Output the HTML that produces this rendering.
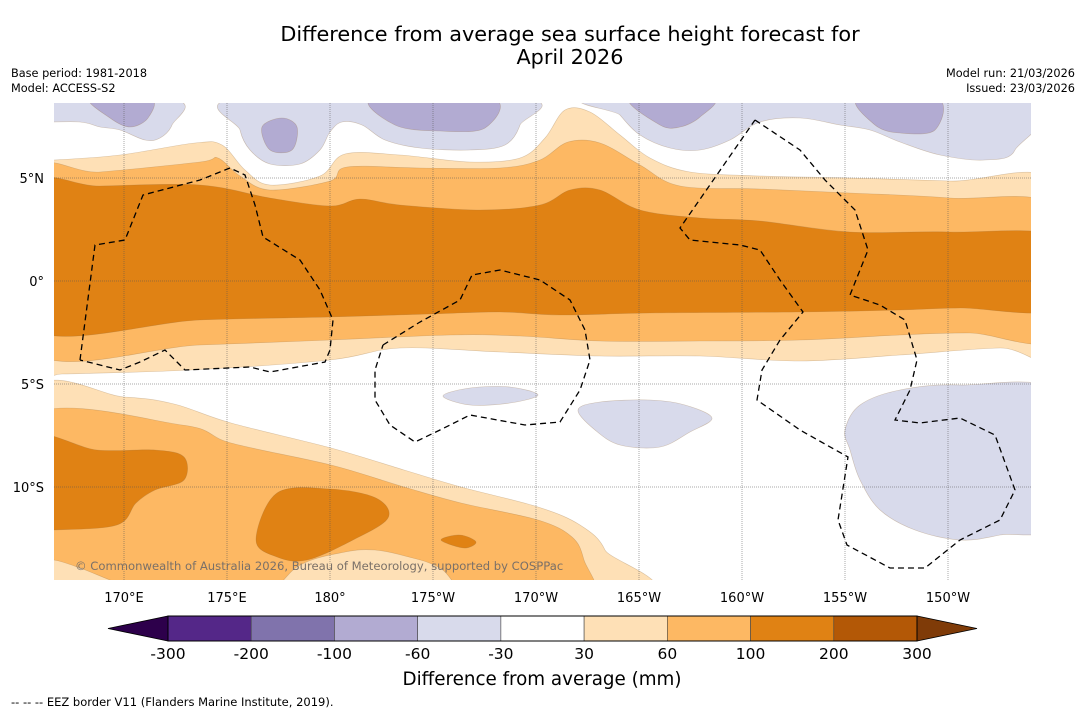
<!DOCTYPE html>
<html><head><meta charset="utf-8">
<style>
body{margin:0;background:#fff;font-family:"DejaVu Sans","Liberation Sans",sans-serif;}
svg{display:block}
</style></head>
<body>
<svg id="chart" width="1085" height="713" viewBox="0 0 1085 713" xmlns="http://www.w3.org/2000/svg" font-family="DejaVu Sans, Liberation Sans, sans-serif">
<defs><clipPath id="mapclip"><rect x="54" y="103" width="977" height="477"/></clipPath></defs>
<text x="570" y="41" text-anchor="middle" font-size="20.8">Difference from average sea surface height forecast for</text>
<text x="570" y="64" text-anchor="middle" font-size="20.8">April 2026</text>
<text x="11" y="77" font-size="11.3">Base period: 1981-2018</text>
<text x="11" y="92" font-size="11.3">Model: ACCESS-S2</text>
<text x="1075" y="77" font-size="11.3" text-anchor="end">Model run: 21/03/2026</text>
<text x="1075" y="92" font-size="11.3" text-anchor="end">Issued: 23/03/2026</text>
<g id="map" clip-path="url(#mapclip)"></g>
<g id="axes"></g>
<g id="cbar"></g>
<text x="542" y="685" text-anchor="middle" font-size="18.3">Difference from average (mm)</text>
<text x="11" y="706" font-size="11.5">--  --  -- EEZ border V11 (Flanders Marine Institute, 2019).</text>
</svg>
<script>
const NS="http://www.w3.org/2000/svg";
// colorbar data
const levels=[-300,-200,-100,-60,-30,30,60,100,200,300];
const bandColors=["#542788","#8073ac","#b2abd2","#d8daeb","#ffffff","#fee0b6","#fdb863","#e08214","#b35806"];
const underColor="#2d004b", overColor="#7f3b08";
// axis tick data
const lonTicks=["170°E","175°E","180°","175°W","170°W","165°W","160°W","155°W","150°W"];
const lonVals=[170,175,180,185,190,195,200,205,210];
const latTicks=["5°N","0°","5°S","10°S"];
const latVals=[5,0,-5,-10];
const lonX=l=>124+(l-170)*20.6;
const latY=l=>281-l*20.6;

function el(t,a,p){const e=document.createElementNS(NS,t);for(const k in a)e.setAttribute(k,a[k]);p.appendChild(e);return e;}
function smooth(pts,closed){
  const n=pts.length;let d="M"+pts[0][0]+","+pts[0][1];
  const g=i=>closed?pts[(i+n)%n]:pts[Math.max(0,Math.min(n-1,i))];
  const m=closed?n:n-1;
  for(let i=0;i<m;i++){const p0=g(i-1),p1=g(i),p2=g(i+1),p3=g(i+2);
    const c1=[p1[0]+(p2[0]-p0[0])/6,p1[1]+(p2[1]-p0[1])/6],c2=[p2[0]-(p3[0]-p1[0])/6,p2[1]-(p3[1]-p1[1])/6];
    d+=`C${c1[0].toFixed(1)},${c1[1].toFixed(1)} ${c2[0].toFixed(1)},${c2[1].toFixed(1)} ${p2[0]},${p2[1]}`;}
  return d+(closed?"Z":"");
}
function band(upper,lower){return upper.concat(lower.slice().reverse());}
const map=document.getElementById("map");
function shape(pts,fill,name){const p=el("path",{d:smooth(pts,true),fill:fill,stroke:fill==="#ffffff"?"none":"rgba(150,110,60,0.35)","stroke-width":0.6},map);

}
el("rect",{x:54,y:103,width:977,height:477,fill:"#fff"},map);
// main equatorial band
const U1=[[30,160],[54,160],[120,155],[195,143],[222,145],[245,170],[270,185],[320,176],[345,154],[400,155],[470,162],[520,158],[545,138],[565,110],[590,112],[620,135],[650,158],[690,172],[760,176],[850,178],[950,181],[1060,186]];
const L1=[[30,374],[62,374],[190,370],[330,360],[400,348],[500,352],[600,356],[700,356],[800,361],[900,355],[1000,348],[1060,352]];
const U2=[[30,176],[100,172],[200,162],[218,158],[240,176],[270,190],[330,181],[347,167],[420,168],[500,168],[540,160],[568,142],[600,143],[640,165],[680,186],[760,189],[850,193],[950,198],[1060,210]];
const L2=[[30,350],[200,345],[330,340],[450,335],[520,336],[600,341],[700,341],[800,340],[900,335],[970,333],[1060,336]];
const U3=[[30,188],[100,186],[200,185],[270,198],[330,206],[360,199],[400,205],[480,210],[540,205],[570,190],[600,190],[640,210],[700,218],[760,221],[850,232],[950,232],[1060,238]];
const L3=[[30,328],[200,320],[330,317],[430,314],[500,312],[560,315],[650,313],[800,312],[900,310],[960,308],[1060,308]];
shape(band(U1,L1),"#fee0b6","band-30-60-equator");
shape(band(U2,L2),"#fdb863","band-60-100-equator");
shape(band(U3,L3),"#e08214","band-100-200-equator");
// southern band
shape([[30,395],[124,397],[174,404],[231,423],[331,448],[404,470],[461,487],[538,507],[580,525],[605,550],[615,600],[30,600]],"#fee0b6","band-30-60-south");
shape([[30,417],[182,425],[231,443],[331,465],[404,487],[461,503],[538,520],[572,537],[584,560],[590,600],[480,600],[440,568],[405,556],[375,550],[345,552],[300,565],[255,600],[160,600],[110,580],[80,568],[54,560],[30,560]],"#fdb863","band-60-100-south");
shape([[30,438],[97,450],[155,450],[184,457],[184,480],[155,490],[136,503],[117,525],[54,530],[30,530]],"#e08214","blob-100-200-west");
shape([[277,493],[330,489],[376,498],[388,518],[353,540],[307,560],[277,557],[256,540]],"#e08214","blob-100-200-centre");
shape([[441,540],[460,535],[476,542],[464,548]],"#e08214","blob-100-200-small");
// negative anomalies
shape([[30,100],[175,100],[172,125],[160,138],[145,140],[120,130],[100,127],[80,122],[30,120]],"#d8daeb","neg-light-nw");
shape([[90,98],[150,98],[148,118],[130,127],[110,118]],"#b2abd2","neg-mid-nw");
shape([[238,98],[521,98],[520,125],[505,145],[470,150],[420,148],[385,140],[362,125],[342,122],[330,132],[320,150],[300,164],[270,164],[250,150],[240,130]],"#d8daeb","neg-light-north");
shape([[262,127],[282,118],[297,127],[292,150],[270,150]],"#b2abd2","neg-mid-north-a");
shape([[373,98],[492,98],[485,128],[440,131],[395,125]],"#b2abd2","neg-mid-north-b");
shape([[608,98],[1013,98],[1015,150],[985,160],[940,155],[900,142],[870,130],[840,125],[800,118],[760,122],[730,140],[700,150],[670,148],[640,135],[620,115]],"#d8daeb","neg-light-ne");
shape([[630,98],[712,98],[700,117],[680,127],[660,125]],"#b2abd2","neg-mid-ne-a");
shape([[858,98],[937,98],[935,130],[900,133],[875,125]],"#b2abd2","neg-mid-ne-b");
shape([[443,396],[470,388],[510,387],[538,395],[510,403],[470,405]],"#d8daeb","neg-light-s1");
shape([[578,410],[600,402],[650,400],[685,405],[712,418],[690,432],[660,447],[620,445],[595,430]],"#d8daeb","neg-light-s2");
shape([[845,430],[860,405],[900,390],[960,385],[1060,395],[1060,520],[1000,535],[960,540],[915,530],[880,510],[860,480],[850,450]],"#d8daeb","neg-light-se");
// graticule
lonVals.forEach(v=>{const l=el("line",{x1:lonX(v),x2:lonX(v),y1:103,y2:580,stroke:"#555","stroke-width":0.5,"stroke-dasharray":"1,1"},map);

});
latVals.forEach(v=>{const l=el("line",{x1:54,x2:1031,y1:latY(v),y2:latY(v),stroke:"#555","stroke-width":0.5,"stroke-dasharray":"1,1"},map);

});
// EEZ borders
const eez=[
[[80,360],[95,245],[125,240],[143,195],[200,180],[230,168],[245,175],[255,205],[263,237],[300,260],[320,290],[333,320],[330,350],[325,362],[270,372],[250,367],[185,370],[165,350],[140,362],[120,370],[80,360]],
[[383,345],[420,322],[460,300],[472,275],[500,270],[540,280],[570,300],[585,330],[590,360],[580,390],[560,422],[525,425],[470,415],[440,430],[415,442],[390,425],[375,400],[375,370],[383,345]],
[[755,120],[800,150],[825,180],[855,210],[868,250],[850,295],[880,305],[905,320],[917,360],[910,390],[895,420],[920,423],[960,418],[995,435],[1015,490],[1000,520],[960,540],[925,568],[890,568],[847,545],[838,520],[848,457],[800,430],[757,400],[762,370],[780,340],[803,312],[780,280],[760,250],[740,245],[690,240],[680,228],[755,120]]
];
eez.forEach(pts=>{const p=el("polyline",{points:pts.map(p=>p.join(",")).join(" "),fill:"none",stroke:"#000","stroke-width":1.3,"stroke-dasharray":"6,4"},map);

});
const cr=el("text",{x:75,y:570,"font-size":11.6,fill:"#7a7068"},map);cr.textContent="© Commonwealth of Australia 2026, Bureau of Meteorology, supported by COSPPac";


// axis labels
const axes=document.getElementById("axes");
lonTicks.forEach((t,i)=>{const e=el("text",{x:lonX(lonVals[i]),y:602,"text-anchor":"middle","font-size":13},axes);e.textContent=t;

});
latTicks.forEach((t,i)=>{const e=el("text",{x:44,y:latY(latVals[i])+5,"text-anchor":"end","font-size":13},axes);e.textContent=t;

});
// colorbar
const cb=document.getElementById("cbar");
const cx0=168,cx1=917,cy0=616,cy1=641,bw=(cx1-cx0)/(levels.length-1);
const lt=el("polygon",{points:`${cx0},${cy0} ${cx0},${cy1} 108,${(cy0+cy1)/2}`,fill:underColor,stroke:"#000","stroke-width":0.8},cb);


const rt=el("polygon",{points:`${cx1},${cy0} ${cx1},${cy1} 977,${(cy0+cy1)/2}`,fill:overColor,stroke:"#000","stroke-width":0.8},cb);


bandColors.forEach((c,i)=>{const r=el("rect",{x:cx0+i*bw,y:cy0,width:bw,height:cy1-cy0,fill:c,stroke:"#444","stroke-width":0.6},cb);

});
el("rect",{x:cx0,y:cy0,width:cx1-cx0,height:cy1-cy0,fill:"none",stroke:"#000","stroke-width":1},cb);
levels.forEach((v,i)=>{const e=el("text",{x:cx0+i*bw,y:659,"text-anchor":"middle","font-size":15.5},cb);e.textContent=v;

});
</script>
</body></html>
